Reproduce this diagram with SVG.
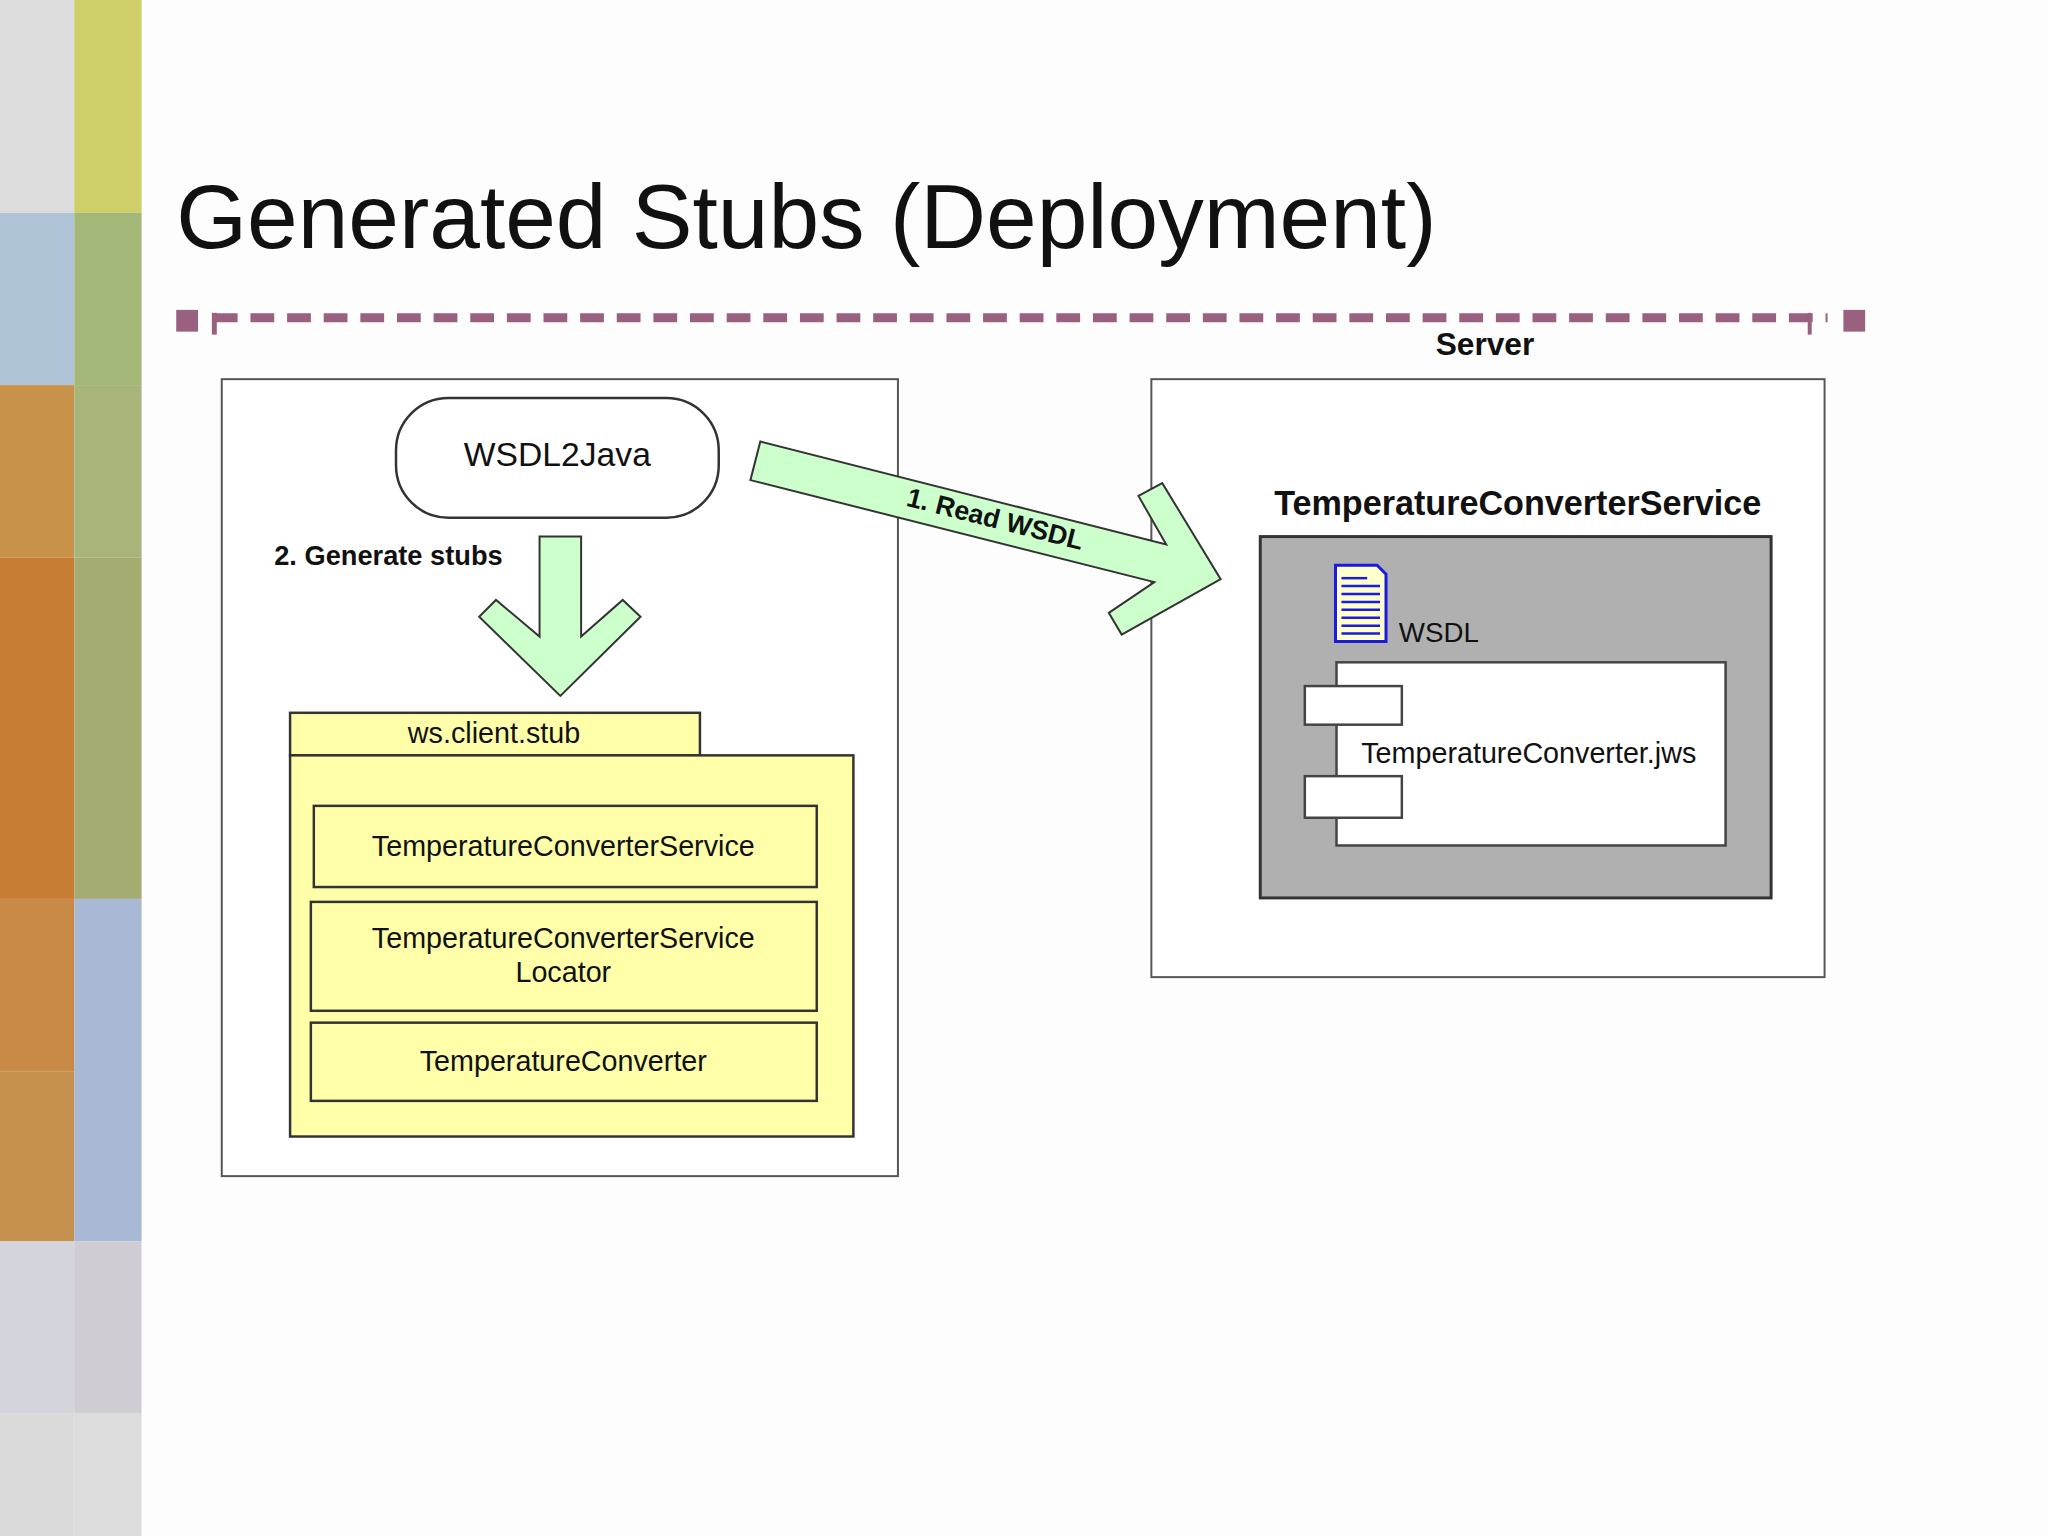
<svg xmlns="http://www.w3.org/2000/svg" width="2048" height="1536" viewBox="0 0 2048 1536">
<style>
text{font-family:"Liberation Sans",Arial,sans-serif;fill:#111}
.box{fill:#fff;stroke:#555;stroke-width:2}
.yel{fill:#ffffaa;stroke:#333;stroke-width:2.5}
.t{font-size:29px;text-anchor:middle}
.b{font-weight:bold}
.arrow{fill:#ccffcc;stroke:#333;stroke-width:2}
</style>
<rect width="2048" height="1536" fill="#fdfdfd"/>
<g transform="scale(0.99)">
<g id="sidebar">
<rect x="0" y="0" width="75" height="215" fill="#dcdcdc"/>
<rect x="0" y="215" width="75" height="174" fill="#b0c4d8"/>
<rect x="0" y="389" width="75" height="174" fill="#c8924a"/>
<rect x="0" y="563" width="75" height="345" fill="#c87d35"/>
<rect x="0" y="908" width="75" height="174" fill="#c98a47"/>
<rect x="0" y="1082" width="75" height="172" fill="#c4924e"/>
<rect x="0" y="1254" width="75" height="174" fill="#d4d4dc"/>
<rect x="0" y="1428" width="75" height="130" fill="#dadada"/>
<rect x="75" y="0" width="68" height="215" fill="#cfcf6a"/>
<rect x="75" y="215" width="68" height="174" fill="#a3b878"/>
<rect x="75" y="389" width="68" height="174" fill="#a7b47a"/>
<rect x="75" y="563" width="68" height="345" fill="#a5ac72"/>
<rect x="75" y="908" width="68" height="346" fill="#a9b8d4"/>
<rect x="75" y="1254" width="68" height="174" fill="#d0ccd4"/>
<rect x="75" y="1428" width="68" height="130" fill="#dcdcdc"/>
</g>
<text x="178" y="251" font-size="92" textLength="1273">Generated Stubs (Deployment)</text>
<g id="server-border">
<line x1="216" y1="321" x2="1846" y2="321" stroke="#9a6080" stroke-width="9" stroke-dasharray="24,13"/>
<rect x="178" y="313" width="22" height="22" fill="#9a6080"/>
<rect x="1862" y="313" width="22" height="22" fill="#9a6080"/>
<rect x="214" y="316" width="5" height="22" fill="#9a6080"/>
<rect x="1826" y="316" width="4" height="22" fill="#9a6080"/>
<text x="1500" y="359" font-size="32" class="b" text-anchor="middle">Server</text>
</g>
<g id="client-box"><rect class="box" x="224" y="383" width="683" height="805"/></g>
<g id="server-box"><rect class="box" x="1163" y="383" width="680" height="604"/></g>
<g id="wsdl2java">
<rect x="400" y="402" width="326" height="121" rx="53" fill="#fff" stroke="#333" stroke-width="2.5"/>
<text x="563" y="471" font-size="34" text-anchor="middle">WSDL2Java</text>
</g>
<g id="connectors">
<polygon class="arrow" points="545,542 587,542 587,643 629,606 647,623 566,703 484,623 501,606 545,643"/>
<text x="277" y="571" font-size="27.5" class="b">2. Generate stubs</text>
<polygon class="arrow" transform="translate(12,7)" points="756,439 1166,543 1138,494 1162,481 1221,578 1121,634 1108,612 1154,581 746,478"/>
<text transform="translate(1003,533) rotate(14.2)" font-size="27" class="b" text-anchor="middle">1. Read WSDL</text>
</g>
<g id="package">
<rect class="yel" x="293" y="720" width="414" height="43"/>
<rect class="yel" x="293" y="763" width="569" height="385"/>
<text class="t" x="499" y="751">ws.client.stub</text>
</g>
<g id="stub-service">
<rect class="yel" x="317" y="814" width="508" height="82"/>
<text class="t" x="569" y="865">TemperatureConverterService</text>
</g>
<g id="stub-locator">
<rect class="yel" x="314" y="911" width="511" height="110"/>
<text class="t" x="569" y="958">TemperatureConverterService</text>
<text class="t" x="569" y="992">Locator</text>
</g>
<g id="stub-converter">
<rect class="yel" x="314" y="1033" width="511" height="79"/>
<text class="t" x="569" y="1082">TemperatureConverter</text>
</g>
<g id="service">
<text x="1533" y="520" font-size="34.5" class="b" text-anchor="middle">TemperatureConverterService</text>
<rect x="1273" y="542" width="516" height="365" fill="#b0b0b0" stroke="#333" stroke-width="3"/>
</g>
<g id="wsdl-doc">
<path d="M1349,571 H1391 L1400,580 V648 H1349 Z" fill="#ffffcc" stroke="#1a1ae0" stroke-width="3"/>
<g stroke="#1a1ae0" stroke-width="2.5">
<line x1="1355" y1="584" x2="1381" y2="584"/><line x1="1355" y1="592" x2="1394" y2="592"/><line x1="1355" y1="600" x2="1394" y2="600"/><line x1="1355" y1="608" x2="1394" y2="608"/><line x1="1355" y1="616" x2="1394" y2="616"/><line x1="1355" y1="624" x2="1394" y2="624"/><line x1="1355" y1="632" x2="1394" y2="632"/><line x1="1355" y1="640" x2="1394" y2="640"/>
</g>
<text x="1413" y="648" font-size="28">WSDL</text>
</g>
<g id="jws">
<rect x="1350" y="669" width="393" height="185" fill="#fff" stroke="#444" stroke-width="2.5"/>
<rect x="1318" y="693" width="98" height="39" fill="#fff" stroke="#444" stroke-width="2.5"/>
<rect x="1318" y="784" width="98" height="42" fill="#fff" stroke="#444" stroke-width="2.5"/>
<text x="1375" y="771" font-size="29">TemperatureConverter.jws</text>
</g>
</g>
</svg>
